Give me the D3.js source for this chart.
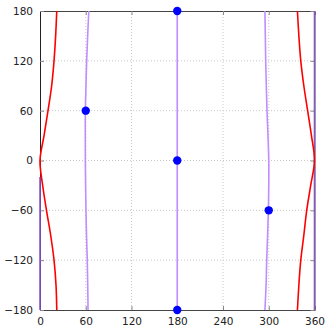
<!DOCTYPE html>
<html><head><meta charset="utf-8">
<script src="https://cdn.jsdelivr.net/npm/d3@7"></script>
<style>body{margin:0;background:#fff}svg text{font-family:"DejaVu Sans",sans-serif;font-size:10.5px;fill:#222}</style>
</head><body><svg id="c" width="332" height="332"></svg>
<script>
const xTicks = [0, 60, 120, 180, 240, 300, 360];
const yTicks = [-180, -120, -60, 0, 60, 120, 180];
const curveY = [-180, -150, -120, -90, -60, -30, 0, 30, 60, 90, 120, 150, 180];
const redLeftX = [22, 21, 18.4, 14, 8.5, 3.5, 0, 5.3, 10.5, 15.3, 18.4, 20.5, 22];
const redRightX = [337.6, 339.5, 342, 346, 349.8, 355, 360, 356, 351, 346, 342, 339.5, 337.6];
const purple60X = [63, 62.6, 62, 61, 60.3, 59.8, 59.5, 59.4, 59.5, 60.3, 61.2, 62.5, 64];
const purple180X = [180, 180, 180, 180, 180, 180, 180, 180, 180, 180, 180, 180, 180];
const purple300X = [295, 296.5, 297.3, 298.5, 299.5, 300, 300, 299, 297.7, 296.8, 296, 295.5, 295];
const purpleEdgeLeftY = [-180, -20];
const purpleEdgeRightY = [-180, 180];
const pointsX = [60, 180, 180, 180, 300];
const pointsY = [60, 180, 0, -180, -60];

const svg = d3.select("#c");
const L = 40, R = 314.5, T = 11, B = 310;
const x = d3.scaleLinear().domain([0, 360]).range([L, R]);
const y = d3.scaleLinear().domain([-180, 180]).range([B, T]);

// grid
const g = svg.append("g");
g.selectAll(".gx").data(xTicks.slice(1, -1)).enter().append("line")
  .attr("x1", d => x(d)).attr("x2", d => x(d)).attr("y1", T).attr("y2", B)
  .attr("stroke", "#c8c8c8").attr("stroke-width", 1).attr("stroke-dasharray", "1,2");
g.selectAll(".gy").data(yTicks.slice(1, -1)).enter().append("line")
  .attr("y1", d => y(d)).attr("y2", d => y(d)).attr("x1", L).attr("x2", R)
  .attr("stroke", "#c8c8c8").attr("stroke-width", 1).attr("stroke-dasharray", "1,2");

// axes with inward ticks
svg.append("g").attr("transform", `translate(0,${B})`)
  .call(d3.axisBottom(x).tickValues(xTicks).tickSize(-4).tickPadding(8))
  .call(a => { a.select(".domain").attr("stroke", "#444"); a.selectAll(".tick line").attr("stroke", "#888"); });
svg.append("g").attr("transform", `translate(0,${T})`)
  .call(d3.axisTop(x).tickValues(xTicks).tickSize(-4).tickFormat(""))
  .call(a => { a.select(".domain").attr("stroke", "#444"); a.selectAll(".tick line").attr("stroke", "#888"); });
svg.append("g").attr("transform", `translate(${L},0)`)
  .call(d3.axisLeft(y).tickValues(yTicks).tickSize(-4).tickPadding(7))
  .call(a => { a.select(".domain").attr("stroke", "#222"); a.selectAll(".tick line").attr("stroke", "#888"); });
svg.append("g").attr("transform", `translate(${R},0)`)
  .call(d3.axisRight(y).tickValues(yTicks).tickSize(-4).tickFormat(""))
  .call(a => { a.select(".domain").attr("stroke", "#444"); a.selectAll(".tick line").attr("stroke", "#888"); });
svg.selectAll("text").style("font-family", "'DejaVu Sans',sans-serif").style("font-size", "10.5px").attr("fill", "#222");

// clip
svg.append("clipPath").attr("id", "clip").append("rect").attr("x", L - 1).attr("y", T).attr("width", R - L + 2).attr("height", B - T);
const plot = svg.append("g").attr("clip-path", "url(#clip)");
const line = d3.line().x(d => x(d[0])).y(d => y(d[1])).curve(d3.curveCatmullRom);
const mk = xs => xs.map((v, i) => [v, curveY[i]]);

plot.append("path").attr("d", line([[0, purpleEdgeLeftY[0]], [0, purpleEdgeLeftY[1]]])).attr("fill", "none").attr("stroke", "#8b55cc").attr("stroke-width", 1.6);
plot.append("path").attr("d", line([[360, purpleEdgeRightY[0]], [360, purpleEdgeRightY[1]]])).attr("fill", "none").attr("stroke", "#8b55cc").attr("stroke-width", 1.6);
[purple60X, purple180X, purple300X].forEach(xs =>
  plot.append("path").attr("d", line(mk(xs))).attr("fill", "none").attr("stroke", "#c08cff").attr("stroke-width", 1.6));
[redLeftX, redRightX].forEach(xs =>
  plot.append("path").attr("d", line(mk(xs))).attr("fill", "none").attr("stroke", "#ff0000").attr("stroke-width", 1.6));

svg.selectAll(".pt").data(pointsX).enter().append("circle")
  .attr("cx", d => x(d)).attr("cy", (d, i) => y(pointsY[i])).attr("r", 4.2).attr("fill", "#0000ff");
</script></body></html>
